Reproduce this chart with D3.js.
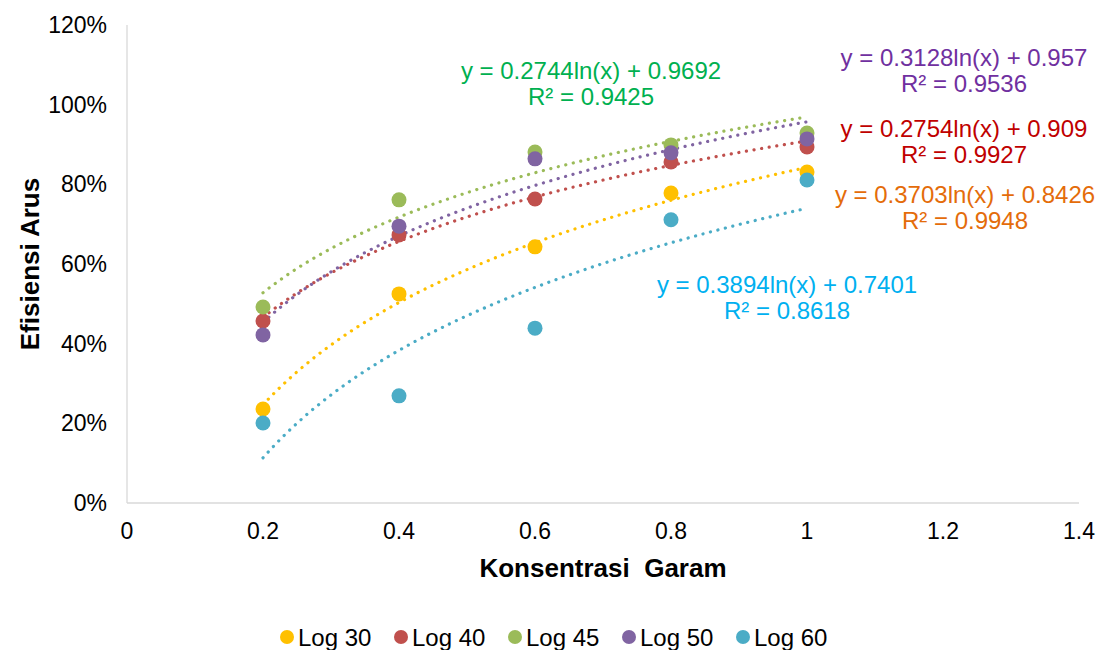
<!DOCTYPE html>
<html>
<head>
<meta charset="utf-8">
<script src="https://cdn.jsdelivr.net/npm/d3@7"></script>
<style>
  body { margin: 0; background: #fff; }
  text { font-family: Arial, "Liberation Sans", sans-serif; }
</style>
</head>
<body>
<script>
const width = 1099;
const height = 650;

// data
const concentrations = [0.2, 0.4, 0.6, 0.8, 1.0];
const seriesNames = ["Log 30", "Log 40", "Log 45", "Log 50", "Log 60"];
const log30 = [0.236, 0.525, 0.643, 0.778, 0.831];
const log40 = [0.457, 0.673, 0.763, 0.856, 0.894];
const log45 = [0.492, 0.761, 0.881, 0.899, 0.929];
const log50 = [0.422, 0.695, 0.864, 0.879, 0.914];
const log60 = [0.201, 0.269, 0.439, 0.711, 0.811];
const seriesValues = [log30, log40, log45, log50, log60];
const colors = ["#FFC000", "#C0504D", "#9BBB59", "#8064A2", "#4BACC6"];

// logarithmic trendlines as printed on the chart: y = a ln(x) + b
const trendA = [0.3703, 0.2754, 0.2744, 0.3128, 0.3894];
const trendB = [0.8426, 0.909, 0.9692, 0.957, 0.7401];
const trendR2 = ["0.9948", "0.9927", "0.9425", "0.9536", "0.8618"];
const labelColors = ["#E46C0A", "#C00000", "#00B050", "#7030A0", "#00B0F0"];

const xTicks = [0, 0.2, 0.4, 0.6, 0.8, 1, 1.2, 1.4];
const yTicks = [0, 0.2, 0.4, 0.6, 0.8, 1.0, 1.2];

const x = d3.scaleLinear().domain([0, 1.4]).range([127, 1079]);
const y = d3.scaleLinear().domain([0, 1.2]).range([503, 25]);

const svg = d3.select("body").append("svg")
  .attr("width", width)
  .attr("height", height);

// axes
svg.append("line")
  .attr("x1", x(0)).attr("x2", x(1.4))
  .attr("y1", y(0)).attr("y2", y(0))
  .attr("stroke", "#D9D9D9").attr("stroke-width", 1.3);
svg.append("line")
  .attr("x1", x(0)).attr("x2", x(0))
  .attr("y1", y(0)).attr("y2", y(1.2))
  .attr("stroke", "#D9D9D9").attr("stroke-width", 1.3);

svg.append("g")
  .selectAll("text")
  .data(xTicks)
  .join("text")
  .attr("x", (d) => x(d))
  .attr("y", y(0) + 36)
  .attr("text-anchor", "middle")
  .attr("font-size", 23)
  .attr("fill", "#000")
  .text((d) => String(d));

svg.append("g")
  .selectAll("text")
  .data(yTicks)
  .join("text")
  .attr("x", 107)
  .attr("y", (d) => y(d) + 8)
  .attr("text-anchor", "end")
  .attr("font-size", 23)
  .attr("fill", "#000")
  .text((d) => `${Math.round(d * 100)}%`);

// axis titles
svg.append("text")
  .attr("transform", `translate(39,${(y(0) + y(1.2)) / 2}) rotate(-90)`)
  .attr("text-anchor", "middle")
  .attr("font-size", 26)
  .attr("font-weight", "bold")
  .text("Efisiensi Arus");

svg.append("text")
  .attr("x", (x(0) + x(1.4)) / 2)
  .attr("y", 577)
  .attr("text-anchor", "middle")
  .attr("font-size", 26)
  .attr("font-weight", "bold")
  .style("white-space", "pre")
  .text("Konsentrasi  Garam");

// trendlines
const line = d3.line().x((d) => x(d[0])).y((d) => y(d[1]));
const sampleX = d3.range(0.2, 1.0001, 0.01);
svg.append("g")
  .selectAll("path")
  .data(seriesNames)
  .join("path")
  .attr("fill", "none")
  .attr("stroke", (d, i) => colors[i])
  .attr("stroke-width", 3.2)
  .attr("stroke-linecap", "round")
  .attr("stroke-dasharray", "0.1 7.6")
  .attr("d", (d, i) => line(sampleX.map((v) => [v, trendA[i] * Math.log(v) + trendB[i]])));

// markers
seriesNames.forEach((name, i) => {
  svg.append("g")
    .selectAll("circle")
    .data(seriesValues[i])
    .join("circle")
    .attr("cx", (d, j) => x(concentrations[j]))
    .attr("cy", (d) => y(d))
    .attr("r", 7.5)
    .attr("fill", colors[i]);
});

// trendline equation labels
const labelPos = [
  [965, 195], // Log 30
  [964, 129], // Log 40
  [591, 71],  // Log 45
  [964, 58],  // Log 50
  [787, 285], // Log 60
];
const labels = svg.append("g")
  .selectAll("text")
  .data(seriesNames)
  .join("text")
  .attr("text-anchor", "middle")
  .attr("font-size", 24)
  .attr("fill", (d, i) => labelColors[i]);
labels.append("tspan")
  .attr("x", (d, i) => labelPos[i][0])
  .attr("y", (d, i) => labelPos[i][1] + 8)
  .text((d, i) => `y = ${trendA[i]}ln(x) + ${trendB[i]}`);
labels.append("tspan")
  .attr("x", (d, i) => labelPos[i][0])
  .attr("y", (d, i) => labelPos[i][1] + 34)
  .text((d, i) => `R² = ${trendR2[i]}`);

// legend
const legend = svg.append("g")
  .selectAll("g")
  .data(seriesNames)
  .join("g")
  .attr("transform", (d, i) => `translate(${287 + i * 114},637)`);
legend.append("circle")
  .attr("r", 7)
  .attr("fill", (d, i) => colors[i]);
legend.append("text")
  .attr("x", 11)
  .attr("y", 9)
  .attr("font-size", 24)
  .attr("fill", "#000")
  .text((d) => d);
</script>
</body>
</html>
